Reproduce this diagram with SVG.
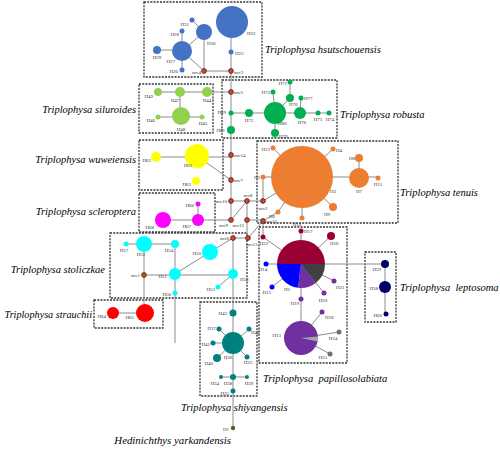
<svg xmlns="http://www.w3.org/2000/svg" width="500" height="449" viewBox="0 0 500 449">
<style>
.box{fill:none;stroke:#333;stroke-width:1.3;stroke-dasharray:2 1.2}
.e{stroke:#8c8c8c;stroke-width:1;fill:none}
.l{font-family:"Liberation Serif",serif;font-size:5px;fill:#333}
.sp{font-family:"Liberation Serif",serif;font-style:italic;font-size:10.5px;fill:#000}
.mv{fill:#e8401c;stroke:#1a1a1a;stroke-width:0.7}
.bl{fill:#4472c4}.lg{fill:#92d050}.gr{fill:#00b050}.ye{fill:#ffff00}.or{fill:#ed7d31}
.mg{fill:#ff00ff}.cy{fill:#00ffff}.rd{fill:#ff0000}.cr{fill:#990033}.bu{fill:#0000ff}
.pu{fill:#7030a0}.dg{fill:#707070}.nv{fill:#000066}.te{fill:#008080}.ol{fill:#4f6228}
</style>
<rect width="500" height="449" fill="#fff"/>
<g id="boxes">
<rect class="box" x="144" y="2" width="118" height="75"/>
<rect class="box" x="139" y="84" width="74" height="49"/>
<rect class="box" x="222" y="80" width="115" height="58"/>
<rect class="box" x="139" y="140" width="84" height="50"/>
<rect class="box" x="257" y="141" width="141" height="82"/>
<rect class="box" x="139" y="193" width="76" height="39"/>
<rect class="box" x="110" y="233" width="137" height="65"/>
<rect class="box" x="94" y="300" width="69" height="28"/>
<rect class="box" x="259" y="227" width="88" height="136"/>
<rect class="box" x="200" y="302" width="57" height="94"/>
<rect class="box" x="365" y="252" width="31" height="70"/>
</g>
<g id="connectors">
<path class="e" d="M192,20L204,32M204,32V71M204,32L182,51M182,31V51M157,50H182M182,70V51M182,51L204,71M204,71H231M231,71V52M231,52V22M231,71V92"/>
<path class="e" d="M158,92H231M180,92V116M158,117H202"/>
<path class="e" d="M231,92V155M231,113H329M273,92L275,113M290,82V98M290,98L275,113M301,98L300,113M275,113V133"/>
<path class="e" d="M156,157H231M197,156L231,180M231,155V220"/>
<path class="e" d="M231,201H263M231,220L247,201M247,201V238M247,220H263M263,221L278,212M263,221L248,238M233,238H248M198,220H231M263,221V237"/>
<path class="e" d="M302,177L273,148M302,177L333,149M302,177H378M359,158V178M302,177L278,212M302,177V218M302,177L333,207M263,177H302M263,177V201M263,201L302,177"/>
<path class="e" d="M198,204V220M163,220H198"/>
<path class="e" d="M126,244H175M175,244V343M144,244V313M144,275H233M175,274L210,252M210,252L233,238M233,238V428M233,274L218,287M113,313H145"/>
<path class="e" d="M263,237L301,264M301,231V299M331,236L301,264M266,264H385M272,287L301,264M324,293L301,264M334,281L301,264M301,299V338M301,338L322,312M301,338L339,332M301,338L330,354"/>
<path class="e" d="M385,264V314"/>
<path class="e" d="M219,329L233,343M249,329L233,343M213,343H233M217,358L233,343M247,357L233,343M221,377H247"/>
</g>
<g id="H32"><circle class="bl" cx="232" cy="22" r="16"/><text class="l" x="247" y="35">H32</text></g>
<g id="H30"><circle class="bl" cx="204" cy="32" r="8"/><text class="l" x="207" y="45">H30</text></g>
<g id="H31"><circle class="bl" cx="192" cy="20" r="2.5"/><text class="l" x="189" y="26" text-anchor="end">H31</text></g>
<g id="H28"><circle class="bl" cx="182" cy="31" r="2.5"/><text class="l" x="179" y="36" text-anchor="end">H28</text></g>
<g id="H27"><circle class="bl" cx="182" cy="51" r="10"/><text class="l" x="175" y="63" text-anchor="end">H27</text></g>
<g id="H29"><circle class="bl" cx="157" cy="50" r="4"/><text class="l" x="157" y="59" text-anchor="middle">H29</text></g>
<g id="H26"><circle class="bl" cx="182" cy="70" r="2.5"/><text class="l" x="178" y="73" text-anchor="end">H26</text></g>
<g id="H23"><circle class="bl" cx="231" cy="52" r="2.5"/><text class="l" x="235" y="55">H23</text></g>
<g id="mv4"><circle class="mv" cx="204" cy="71" r="2.4"/><text class="l" x="201" y="74" text-anchor="end">mv4</text></g>
<g id="mv3"><circle class="mv" cx="231" cy="71" r="2.4"/><text class="l" x="234" y="74">mv3</text></g>
<g id="H49"><circle class="lg" cx="158" cy="92" r="4"/><text class="l" x="153" y="98" text-anchor="end">H49</text></g>
<g id="H47"><circle class="lg" cx="180" cy="92" r="5"/><text class="l" x="175" y="102" text-anchor="middle">H47</text></g>
<g id="H44"><circle class="lg" cx="207" cy="92" r="5"/><text class="l" x="207" y="102" text-anchor="middle">H44</text></g>
<g id="H48"><circle class="lg" cx="181" cy="116" r="9"/><text class="l" x="181" y="131" text-anchor="middle">H48</text></g>
<g id="H46"><circle class="lg" cx="158" cy="117" r="2.5"/><text class="l" x="155" y="122" text-anchor="end">H46</text></g>
<g id="H45"><circle class="lg" cx="202" cy="117" r="2.5"/><text class="l" x="203" y="125" text-anchor="middle">H45</text></g>
<g id="mv5"><circle class="mv" cx="231" cy="92" r="2.4"/><text class="l" x="234" y="94">mv5</text></g>
<g id="H69"><circle class="gr" cx="231" cy="113" r="2.5"/><text class="l" x="226" y="114" text-anchor="end">H69</text></g>
<g id="H81"><circle class="gr" cx="231" cy="130" r="4"/><text class="l" x="225" y="132" text-anchor="end">H81</text></g>
<g id="H72"><circle class="gr" cx="249" cy="113" r="4"/><text class="l" x="249" y="122" text-anchor="middle">H72</text></g>
<g id="H80"><circle class="gr" cx="275" cy="113" r="11"/><text class="l" x="278" y="125">H80</text></g>
<g id="H73"><circle class="gr" cx="273" cy="92" r="2.5"/><text class="l" x="270" y="94" text-anchor="end">H73</text></g>
<g id="H71"><circle class="gr" cx="290" cy="82" r="2.5"/><text class="l" x="287" y="85" text-anchor="end">H71</text></g>
<g id="H70"><circle class="gr" cx="290" cy="98" r="4"/><text class="l" x="289" y="106">H70</text></g>
<g id="H77"><circle class="gr" cx="301" cy="98" r="2.5"/><text class="l" x="304" y="100">H77</text></g>
<g id="H76"><circle class="gr" cx="300" cy="113" r="6"/><text class="l" x="302" y="124" text-anchor="middle">H76</text></g>
<g id="H75"><circle class="gr" cx="318" cy="113" r="2.5"/><text class="l" x="318" y="121" text-anchor="middle">H75</text></g>
<g id="H74"><circle class="gr" cx="329" cy="113" r="2.5"/><text class="l" x="330" y="121" text-anchor="middle">H74</text></g>
<g id="H79"><circle class="gr" cx="275" cy="133" r="4"/><text class="l" x="279" y="138">H79</text></g>
<g id="H62"><circle class="ye" cx="156" cy="157" r="5"/><text class="l" x="151" y="162" text-anchor="end">H62</text></g>
<g id="H61"><circle class="ye" cx="197" cy="156" r="12"/><text class="l" x="188" y="167" text-anchor="middle">H61</text></g>
<g id="H63"><circle class="ye" cx="196" cy="181" r="4"/><text class="l" x="191" y="186" text-anchor="end">H63</text></g>
<g id="mv14"><circle class="mv" cx="231" cy="155" r="2.4"/><text class="l" x="234" y="157">mv14</text></g>
<g id="mv7"><circle class="mv" cx="231" cy="180" r="2.4"/><text class="l" x="234" y="182">mv7</text></g>
<g id="H3"><circle class="or" cx="302" cy="177" r="31"/><text class="l" x="330" y="193">H3</text></g>
<g id="H12"><circle class="or" cx="273" cy="148" r="2.5"/><text class="l" x="270" y="151" text-anchor="end">H12</text></g>
<g id="H4"><circle class="or" cx="333" cy="149" r="2.5"/><text class="l" x="336" y="152">H4</text></g>
<g id="H5"><circle class="or" cx="263" cy="177" r="2.5"/><text class="l" x="260" y="179" text-anchor="end">H5</text></g>
<g id="H8"><circle class="or" cx="359" cy="158" r="4"/><text class="l" x="355" y="160" text-anchor="end">H8</text></g>
<g id="H7"><circle class="or" cx="359" cy="178" r="10"/><text class="l" x="359" y="193" text-anchor="middle">H7</text></g>
<g id="H11"><circle class="or" cx="378" cy="178" r="2.5"/><text class="l" x="378" y="186" text-anchor="middle">H11</text></g>
<g id="H6"><circle class="or" cx="278" cy="212" r="2.5"/><text class="l" x="275" y="218" text-anchor="end">H6</text></g>
<g id="H10"><circle class="or" cx="302" cy="218" r="2.5"/><text class="l" x="297" y="226" text-anchor="middle">H10</text></g>
<g id="H9"><circle class="or" cx="333" cy="207" r="4"/><text class="l" x="330" y="216" text-anchor="end">H9</text></g>
<g id="mv2"><circle class="mv" cx="263" cy="201" r="2.4"/><text class="l" x="263" y="210" text-anchor="middle">mv2</text></g>
<g id="H66"><circle class="mg" cx="198" cy="204" r="2.5"/><text class="l" x="194" y="207" text-anchor="end">H66</text></g>
<g id="H67"><circle class="mg" cx="198" cy="220" r="6"/><text class="l" x="191" y="228" text-anchor="end">H67</text></g>
<g id="H68"><circle class="mg" cx="163" cy="220" r="8"/><text class="l" x="154" y="229" text-anchor="end">H68</text></g>
<g id="mv10"><circle class="mv" cx="231" cy="201" r="2.4"/><text class="l" x="227" y="203" text-anchor="end">mv10</text></g>
<g id="mv8"><circle class="mv" cx="247" cy="201" r="2.4"/><text class="l" x="248" y="197" text-anchor="middle">mv8</text></g>
<g id="mv9"><circle class="mv" cx="231" cy="220" r="2.4"/><text class="l" x="228" y="227" text-anchor="end">mv9</text></g>
<g id="mv12"><circle class="mv" cx="247" cy="220" r="2.4"/><text class="l" x="244" y="227" text-anchor="end">mv12</text></g>
<g id="mv11"><circle class="mv" cx="263" cy="221" r="2.4"/><text class="l" x="266" y="223">mv11</text></g>
<g id="mv6"><circle class="mv" cx="233" cy="238" r="2.4"/><text class="l" x="229" y="240" text-anchor="end">mv6</text></g>
<g id="mv13"><circle class="mv" cx="248" cy="238" r="2.4"/><text class="l" x="246" y="246">mv13</text></g>
<g id="H57"><circle class="cy" cx="126" cy="244" r="2.5"/><text class="l" x="124" y="252" text-anchor="middle">H57</text></g>
<g id="H55"><circle class="cy" cx="144" cy="244" r="8"/><text class="l" x="141" y="256" text-anchor="middle">H55</text></g>
<g id="H54"><circle class="cy" cx="175" cy="244" r="4"/><text class="l" x="169" y="252" text-anchor="middle">H54</text></g>
<g id="H50"><circle class="cy" cx="210" cy="252" r="8"/><text class="l" x="201" y="255" text-anchor="end">H50</text></g>
<g id="H51"><circle class="cy" cx="175" cy="274" r="6"/><text class="l" x="167" y="278" text-anchor="end">H51</text></g>
<g id="H53"><circle class="cy" cx="233" cy="274" r="5"/><text class="l" x="240" y="281">H53</text></g>
<g id="H52"><circle class="cy" cx="218" cy="287" r="2.5"/><text class="l" x="215" y="291" text-anchor="end">H52</text></g>
<g id="H56"><circle class="cy" cx="175" cy="293" r="2.5"/><text class="l" x="171" y="296" text-anchor="end">H56</text></g>
<g id="mv1"><circle class="mv" cx="144" cy="275" r="2.4"/><text class="l" x="140" y="277" text-anchor="end">mv1</text></g>
<g id="H64"><circle class="rd" cx="113" cy="313" r="6"/><text class="l" x="106" y="318" text-anchor="end">H64</text></g>
<g id="H65"><circle class="rd" cx="145" cy="313" r="9"/><text class="l" x="134" y="319" text-anchor="end">H65</text></g>
<g id="H2">
<path class="cr" d="M301,264L277,264A24,24 0 0 1 325,264Z"/>
<path fill="#404040" d="M301,264L325,264A24,24 0 0 1 315.78,282.91Z"/>
<path class="pu" d="M301,264L315.78,282.91A24,24 0 0 1 298.08,287.82Z"/>
<path class="bu" d="M301,264L298.08,287.82A24,24 0 0 1 277,264Z"/>
<text class="l" x="287" y="291" text-anchor="middle">H2</text></g>
<g id="H17"><circle class="cr" cx="301" cy="231" r="2.5"/><text class="l" x="304" y="233">H17</text></g>
<g id="H16"><circle class="cr" cx="331" cy="236" r="4"/><text class="l" x="330" y="245">H16</text></g>
<g id="H22"><circle class="cr" cx="263" cy="237" r="2.5"/><text class="l" x="264" y="245" text-anchor="middle">H22</text></g>
<g id="H14"><circle class="bu" cx="266" cy="264" r="2.5"/><text class="l" x="263" y="271" text-anchor="middle">H14</text></g>
<g id="H15"><circle class="bu" cx="272" cy="287" r="2.5"/><text class="l" x="271" y="294" text-anchor="end">H15</text></g>
<g id="H19"><circle class="pu" cx="301" cy="299" r="2.5"/><text class="l" x="299" y="305" text-anchor="end">H19</text></g>
<g id="H20"><circle class="pu" cx="324" cy="293" r="2.5"/><text class="l" x="323" y="302" text-anchor="middle">H20</text></g>
<g id="H21"><circle class="pu" cx="334" cy="281" r="2.5"/><text class="l" x="336" y="289">H21</text></g>
<g id="H13"><circle class="pu" cx="301" cy="338" r="17"/><path fill="#a6a6a6" d="M301,338L317.94,336.52A17,17 0 0 1 317.63,341.53Z"/><text class="l" x="281" y="337" text-anchor="end">H13</text></g>
<g id="H18"><circle class="pu" cx="322" cy="312" r="2.5"/><text class="l" x="325" y="319">H18</text></g>
<g id="H24"><circle class="dg" cx="339" cy="332" r="2.5"/><text class="l" x="333" y="340" text-anchor="middle">H24</text></g>
<g id="H25"><circle class="dg" cx="330" cy="354" r="2.5"/><text class="l" x="327" y="359" text-anchor="end">H25</text></g>
<g id="H59"><circle class="nv" cx="385" cy="264" r="4"/><text class="l" x="381" y="271" text-anchor="end">H59</text></g>
<g id="H58"><circle class="nv" cx="385" cy="287" r="6"/><text class="l" x="378" y="290" text-anchor="end">H58</text></g>
<g id="H60"><circle class="nv" cx="386" cy="314" r="2.5"/><text class="l" x="382" y="317" text-anchor="end">H60</text></g>
<g id="H42"><circle class="te" cx="233" cy="313" r="3.5"/><text class="l" x="227" y="315" text-anchor="end">H42</text></g>
<g id="H37"><circle class="te" cx="219" cy="329" r="2.5"/><text class="l" x="216" y="330" text-anchor="end">H37</text></g>
<g id="H43"><circle class="te" cx="249" cy="329" r="2.5"/><text class="l" x="251" y="334">H43</text></g>
<g id="H41"><circle class="te" cx="213" cy="343" r="2.5"/><text class="l" x="210" y="346" text-anchor="end">H41</text></g>
<g id="H36"><circle class="te" cx="233" cy="343" r="11"/><text class="l" x="228" y="359" text-anchor="middle">H36</text></g>
<g id="H40"><circle class="te" cx="217" cy="358" r="4"/><text class="l" x="213" y="365" text-anchor="end">H40</text></g>
<g id="H33"><circle class="te" cx="247" cy="357" r="2.5"/><text class="l" x="248" y="364" text-anchor="middle">H33</text></g>
<g id="H38"><circle class="te" cx="233" cy="377" r="3"/><text class="l" x="228" y="385" text-anchor="middle">H38</text></g>
<g id="H34"><circle class="te" cx="221" cy="377" r="2"/><text class="l" x="219" y="385" text-anchor="end">H34</text></g>
<g id="H39"><circle class="te" cx="247" cy="377" r="2"/><text class="l" x="249" y="385" text-anchor="middle">H39</text></g>
<g id="H35"><circle class="te" cx="233" cy="391" r="2.5"/><text class="l" x="229" y="395" text-anchor="end">H35</text></g>
<g id="H1"><circle class="ol" cx="233" cy="428" r="2.2"/><text class="l" x="229" y="431" text-anchor="end">H1</text></g>
<g id="species">
<text class="sp" x="265" y="53">Triplophysa hsutschouensis</text>
<text class="sp" x="136" y="113" text-anchor="end">Triplophysa siluroides</text>
<text class="sp" x="340" y="118">Triplophysa robusta</text>
<text class="sp" x="136" y="163" text-anchor="end">Triplophysa wuweiensis</text>
<text class="sp" x="400" y="196">Triplophysa tenuis</text>
<text class="sp" x="136" y="215" text-anchor="end">Triplophysa scleroptera</text>
<text class="sp" x="105" y="273" text-anchor="end">Triplophysa stoliczkae</text>
<text class="sp" x="92" y="318" text-anchor="end" style="font-size:10.2px">Triplophysa strauchii</text>
<text class="sp" x="400" y="291" xml:space="preserve">Triplophysa  leptosoma</text>
<text class="sp" x="263" y="382" xml:space="preserve">Triplophysa  papillosolabiata</text>
<text class="sp" x="181" y="411">Triplophysa shiyangensis</text>
<text class="sp" x="231" y="444" text-anchor="end" style="font-size:10.8px">Hedinichthys yarkandensis</text>
</g>
</svg>
